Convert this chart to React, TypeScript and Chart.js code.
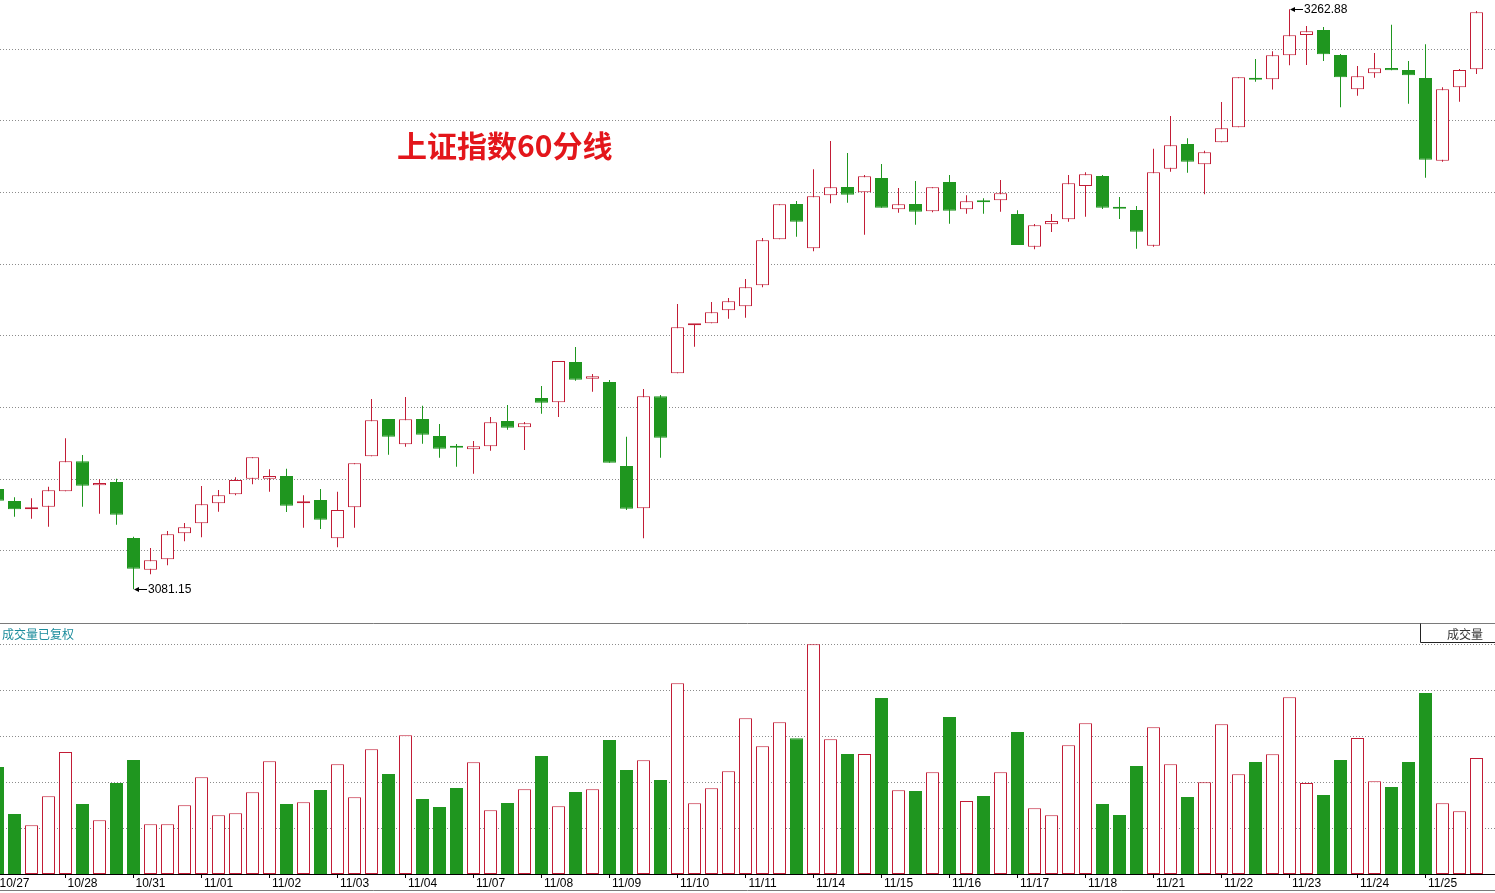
import React, { useEffect, useRef } from "react";
import { Chart, registerables } from "chart.js";
Chart.register(...registerables);

// ---------- data ----------
const TITLE = "上证指数60分线";
const VOLUME_TITLE = "成交量已复权";
const VOLUME_BOX = "成交量";

const DAY_LABELS = [
  "10/27", "10/28", "10/31", "11/01", "11/02", "11/03", "11/04", "11/07", "11/08", "11/09", "11/10",
  "11/11", "11/14", "11/15", "11/16", "11/17", "11/18", "11/21", "11/22", "11/23", "11/24", "11/25",
];

// 60-minute bars (first bar is the last hour of the previous session, partly visible)
const OPEN = [
  3112.58,
  3108.82, 3106.22, 3107.03, 3111.86, 3121.26, 3113.74, 3114.77, 3097.22, 3087.29, 3090.55,
  3098.70, 3101.83, 3108.10, 3110.92, 3115.80, 3115.80, 3116.65, 3108.10, 3109.13, 3097.13,
  3106.84, 3122.82, 3134.51, 3126.58, 3134.51, 3129.18, 3125.83, 3125.02, 3125.96, 3133.88,
  3131.91, 3141.09, 3139.74, 3152.37, 3147.14, 3146.10, 3119.78, 3106.53, 3141.62, 3148.83,
  3163.87, 3164.49, 3168.57, 3169.82, 3176.40, 3190.81, 3201.87, 3187.99, 3204.60, 3207.20,
  3205.54, 3210.02, 3200.21, 3201.87, 3199.59, 3208.77, 3200.21, 3202.81, 3203.03, 3198.74,
  3188.49, 3195.51, 3197.08, 3207.51, 3210.65, 3200.84, 3199.99, 3188.81, 3212.93, 3220.67,
  3214.31, 3221.21, 3225.90, 3241.26, 3240.94, 3248.46, 3254.82, 3256.39, 3248.56, 3237.81,
  3242.82, 3244.48, 3243.86, 3241.35, 3215.44, 3238.44, 3244.08,
];
const HIGH = [
  3113.20,
  3109.98, 3109.66, 3113.30, 3128.46, 3123.23, 3115.62, 3115.80, 3097.63, 3094.09, 3099.42,
  3101.92, 3113.52, 3112.26, 3116.24, 3122.51, 3118.75, 3118.94, 3110.60, 3112.58, 3111.73,
  3120.63, 3140.78, 3134.51, 3141.40, 3138.68, 3132.94, 3126.68, 3127.62, 3135.14, 3138.90,
  3133.57, 3144.85, 3152.68, 3157.07, 3148.61, 3146.73, 3128.96, 3143.91, 3142.03, 3170.54,
  3164.18, 3171.17, 3172.42, 3178.37, 3191.22, 3201.78, 3202.81, 3212.75, 3221.61, 3217.85,
  3210.96, 3214.41, 3206.89, 3209.08, 3207.11, 3210.96, 3204.60, 3203.66, 3209.39, 3199.90,
  3195.61, 3198.74, 3210.96, 3211.81, 3210.96, 3204.07, 3201.25, 3219.20, 3229.45, 3222.46,
  3218.57, 3233.83, 3241.57, 3247.30, 3249.72, 3262.88, 3257.64, 3257.33, 3248.87, 3245.11,
  3249.18, 3258.05, 3246.68, 3251.91, 3238.44, 3244.17, 3262.34,
];
const LOW = [
  3108.19,
  3103.90, 3103.27, 3100.76, 3111.86, 3107.03, 3104.84, 3101.39, 3081.15, 3085.85, 3088.67,
  3096.19, 3097.44, 3105.46, 3110.60, 3114.05, 3111.73, 3105.37, 3100.45, 3100.04, 3094.31,
  3100.45, 3122.82, 3123.32, 3125.83, 3126.77, 3122.38, 3119.56, 3117.37, 3124.58, 3131.16,
  3124.80, 3136.17, 3135.14, 3146.51, 3143.06, 3120.82, 3106.00, 3097.13, 3122.38, 3148.83,
  3157.16, 3164.49, 3165.94, 3166.25, 3175.77, 3190.81, 3191.63, 3187.05, 3202.09, 3202.28,
  3192.25, 3200.71, 3199.15, 3195.39, 3199.27, 3195.70, 3198.83, 3198.83, 3199.46, 3189.03,
  3187.68, 3193.10, 3196.33, 3197.89, 3200.31, 3197.17, 3187.87, 3188.49, 3211.99, 3211.68,
  3204.91, 3221.21, 3225.90, 3240.19, 3237.75, 3245.33, 3245.42, 3246.68, 3232.17, 3235.81,
  3241.45, 3243.76, 3233.30, 3210.11, 3215.13, 3233.93, 3242.60,
];
const CLOSE = [
  3108.91,
  3106.22, 3106.84, 3112.17, 3121.26, 3113.61, 3114.46, 3104.52, 3087.61, 3090.24, 3098.38,
  3100.58, 3107.78, 3110.60, 3115.40, 3122.51, 3116.65, 3107.34, 3108.50, 3102.96, 3106.00,
  3120.63, 3134.10, 3128.96, 3134.42, 3129.59, 3125.20, 3125.52, 3125.96, 3133.48, 3131.78,
  3133.16, 3139.62, 3152.68, 3146.82, 3147.89, 3120.82, 3106.40, 3141.62, 3128.65, 3163.24,
  3164.18, 3167.94, 3171.39, 3175.77, 3190.50, 3201.78, 3196.33, 3204.29, 3207.11, 3204.79,
  3210.55, 3200.71, 3201.78, 3199.46, 3207.11, 3199.77, 3202.72, 3202.41, 3205.23, 3189.03,
  3195.20, 3196.55, 3208.36, 3211.18, 3200.71, 3200.40, 3193.19, 3211.81, 3220.27, 3215.13,
  3218.07, 3225.59, 3241.57, 3240.82, 3248.46, 3254.73, 3255.98, 3248.78, 3241.57, 3241.88,
  3244.39, 3243.76, 3242.20, 3215.75, 3237.81, 3243.86, 3261.94,
];
const VOLUME = [
  2329,
  1306, 1060, 1692, 2656, 1524, 1169, 1981, 2482, 1082, 1082,
  1496, 2105, 1278, 1321, 1779, 2453, 1524, 1561, 1829, 2388,
  1670, 2715, 2177, 3019, 1633, 1459, 1872, 2432, 1387, 1546,
  1844, 2569, 1474, 1785, 1844, 2917, 2264, 2475, 2046, 4152,
  1539, 1866, 2236, 3390, 2780, 3302, 2954, 5001, 2932, 2612,
  2612, 3832, 1822, 1807, 2214, 3418, 1589, 1698, 2214, 3091,
  1430, 1278, 2802, 3281, 1524, 1284, 2351, 3194, 2388, 1676,
  1996, 3259, 2170, 2438, 2606, 3847, 1981, 1720, 2482, 2961,
  2018, 1894, 2438, 3940, 1539, 1365, 2525,
];
const PRICE_GRID = [3250.34, 3227.88, 3205.48, 3183.01, 3160.55, 3138.08, 3115.62, 3093.15];
const VOLUME_GRID = [1000, 2000, 3000, 4000, 5000];
const BARS_PER_DAY = 4;

// ---------- style ----------
const W = 1495;
const TOP_H = 623;
const BOT_H = 270;
const X_MIN = 2.5 / 17;
const X_MAX = 1497.5 / 17;
const PRICE_MIN = 3070.59;
const PRICE_MAX = 3265.79;
const VOL_MAX = 5464;
const RED = "#c21d36";
const GREEN = "#1f961f";
const GRID = "#8c8c8c";
const TITLE_RED = "#e3161b";
const LATIN = '"Liberation Sans", Arial, sans-serif';
const CJK = '"Noto Sans CJK SC", sans-serif';

const isUp = (j: number) => CLOSE[j] >= OPEN[j];
const edgeColors = OPEN.map((_, j) => (isUp(j) ? RED : GREEN));
const fillColors = OPEN.map((_, j) => (isUp(j) ? "#ffffff" : GREEN));

const hideAxisWidth = (s: any) => {
  s.width = 0;
};

const topDecor = {
  id: "topDecor",
  afterDraw(chart: any) {
    const { ctx } = chart;
    const xs = chart.scales.x;
    const ys = chart.scales.y;
    ctx.save();
    ctx.font = `bold 30px ${CJK}`;
    ctx.fillStyle = TITLE_RED;
    ctx.textAlign = "left";
    ctx.textBaseline = "middle";
    ctx.fillText(TITLE, 397, 146);

    let hi = 0;
    let lo = 0;
    HIGH.forEach((v, j) => {
      if (v > HIGH[hi]) hi = j;
    });
    LOW.forEach((v, j) => {
      if (v < LOW[lo]) lo = j;
    });
    const mark = (j: number, v: number) => {
      const x = Math.round(xs.getPixelForValue(j) + 0.5);
      const y = Math.round(ys.getPixelForValue(v));
      ctx.strokeStyle = "#000";
      ctx.fillStyle = "#000";
      ctx.lineWidth = 1;
      ctx.beginPath();
      ctx.moveTo(x + 2, y + 0.5);
      ctx.lineTo(x + 13, y + 0.5);
      ctx.stroke();
      ctx.beginPath();
      ctx.moveTo(x, y + 0.5);
      ctx.lineTo(x + 5, y - 2);
      ctx.lineTo(x + 5, y + 3);
      ctx.closePath();
      ctx.fill();
      ctx.font = `12px ${LATIN}`;
      ctx.textAlign = "left";
      ctx.textBaseline = "middle";
      ctx.fillText(v.toFixed(2), x + 14, y + 0.5);
    };
    mark(hi, HIGH[hi]);
    mark(lo, LOW[lo]);
    ctx.restore();
  },
};

const bottomDecor = {
  id: "bottomDecor",
  afterDraw(chart: any) {
    const { ctx } = chart;
    ctx.save();
    ctx.strokeStyle = "#7a7a7a";
    ctx.lineWidth = 1;
    ctx.beginPath();
    ctx.moveTo(0, 0.5);
    ctx.lineTo(W, 0.5);
    ctx.moveTo(0, 267.5);
    ctx.lineTo(W, 267.5);
    ctx.stroke();

    ctx.font = `12px ${CJK}`;
    ctx.textBaseline = "middle";
    ctx.textAlign = "left";
    ctx.fillStyle = "#1b8c9c";
    ctx.fillText(VOLUME_TITLE, 2, 11.5);

    ctx.strokeStyle = "#222";
    ctx.beginPath();
    ctx.moveTo(W, 19.5);
    ctx.lineTo(1420.5, 19.5);
    ctx.lineTo(1420.5, 0.5);
    ctx.stroke();
    ctx.fillStyle = "#333";
    ctx.textAlign = "right";
    ctx.fillText(VOLUME_BOX, 1483, 11.5);
    ctx.restore();
  },
};

export default function App() {
  const topRef = useRef<HTMLCanvasElement | null>(null);
  const botRef = useRef<HTMLCanvasElement | null>(null);

  useEffect(() => {
    document.body.style.margin = "0";
    const idx = OPEN.map((_, j) => j);

    const top = new Chart(topRef.current as HTMLCanvasElement, {
      type: "bar",
      data: {
        datasets: [
          {
            label: "body",
            data: idx.map((j) => ({ x: j, y: [OPEN[j], CLOSE[j]] })) as any,
            backgroundColor: fillColors,
            borderColor: edgeColors,
            borderWidth: 1,
            borderSkipped: false,
            barThickness: 13,
            minBarLength: 2,
            inflateAmount: 0,
            grouped: false,
          } as any,
          {
            label: "wick",
            data: idx.map((j) => ({ x: j, y: [LOW[j], HIGH[j]] })) as any,
            backgroundColor: edgeColors,
            borderWidth: 0,
            barThickness: 1,
            inflateAmount: 0,
            grouped: false,
          } as any,
        ],
      },
      options: {
        responsive: false,
        animation: false,
        events: [],
        layout: { padding: 0 },
        plugins: { legend: { display: false }, tooltip: { enabled: false } },
        scales: {
          x: { type: "linear", min: X_MIN, max: X_MAX, offset: false, display: false, grid: { offset: false } },
          y: {
            type: "linear",
            min: PRICE_MIN,
            max: PRICE_MAX,
            beginAtZero: false,
            position: "left",
            afterBuildTicks: (s: any) => {
              s.ticks = PRICE_GRID.map((v) => ({ value: v }));
            },
            afterFit: hideAxisWidth,
            ticks: { display: false },
            grid: { drawTicks: false, color: GRID, lineWidth: 1 },
            border: { display: false, dash: [1, 2] },
          },
        },
      } as any,
      plugins: [topDecor],
    });

    const bot = new Chart(botRef.current as HTMLCanvasElement, {
      type: "bar",
      data: {
        datasets: [
          {
            label: "volume",
            data: idx.map((j) => ({ x: j, y: VOLUME[j] })) as any,
            backgroundColor: fillColors,
            borderColor: edgeColors,
            borderWidth: 1,
            borderSkipped: false,
            barThickness: 13,
            inflateAmount: 0,
            grouped: false,
          } as any,
        ],
      },
      options: {
        responsive: false,
        animation: false,
        events: [],
        layout: { padding: 0 },
        plugins: { legend: { display: false }, tooltip: { enabled: false } },
        scales: {
          x: {
            type: "linear",
            min: X_MIN,
            max: X_MAX,
            offset: false,
            position: "bottom",
            afterBuildTicks: (s: any) => {
              s.ticks = DAY_LABELS.map((_, k) => ({ value: k * BARS_PER_DAY }));
            },
            afterFit: (s: any) => {
              s.height = 19;
              s.paddingLeft = 0;
              s.paddingRight = 0;
            },
            ticks: {
              autoSkip: false,
              maxRotation: 0,
              minRotation: 0,
              labelOffset: 17,
              padding: -2,
              color: "#000",
              font: { family: LATIN, size: 12 },
              callback: (_v: any, i: number) => DAY_LABELS[i],
            },
            grid: { offset: false, drawOnChartArea: false, drawTicks: true, tickLength: 4, color: "#000" },
            border: { display: true, color: "#000", width: 1 },
          },
          y: {
            type: "linear",
            min: 0,
            max: VOL_MAX,
            position: "left",
            afterBuildTicks: (s: any) => {
              s.ticks = VOLUME_GRID.map((v) => ({ value: v }));
            },
            afterFit: hideAxisWidth,
            ticks: { display: false },
            grid: { drawTicks: false, color: GRID, lineWidth: 1 },
            border: { display: false, dash: [1, 2] },
          },
        },
      } as any,
      plugins: [bottomDecor],
    });

    return () => {
      top.destroy();
      bot.destroy();
    };
  }, []);

  return (
    <div style={{ position: "absolute", left: 0, top: 0, width: W, height: TOP_H + BOT_H, background: "#fff" }}>
      <canvas ref={topRef} width={W} height={TOP_H} style={{ position: "absolute", left: 0, top: 0, display: "block" }} />
      <canvas ref={botRef} width={W} height={BOT_H} style={{ position: "absolute", left: 0, top: TOP_H, display: "block" }} />
    </div>
  );
}
